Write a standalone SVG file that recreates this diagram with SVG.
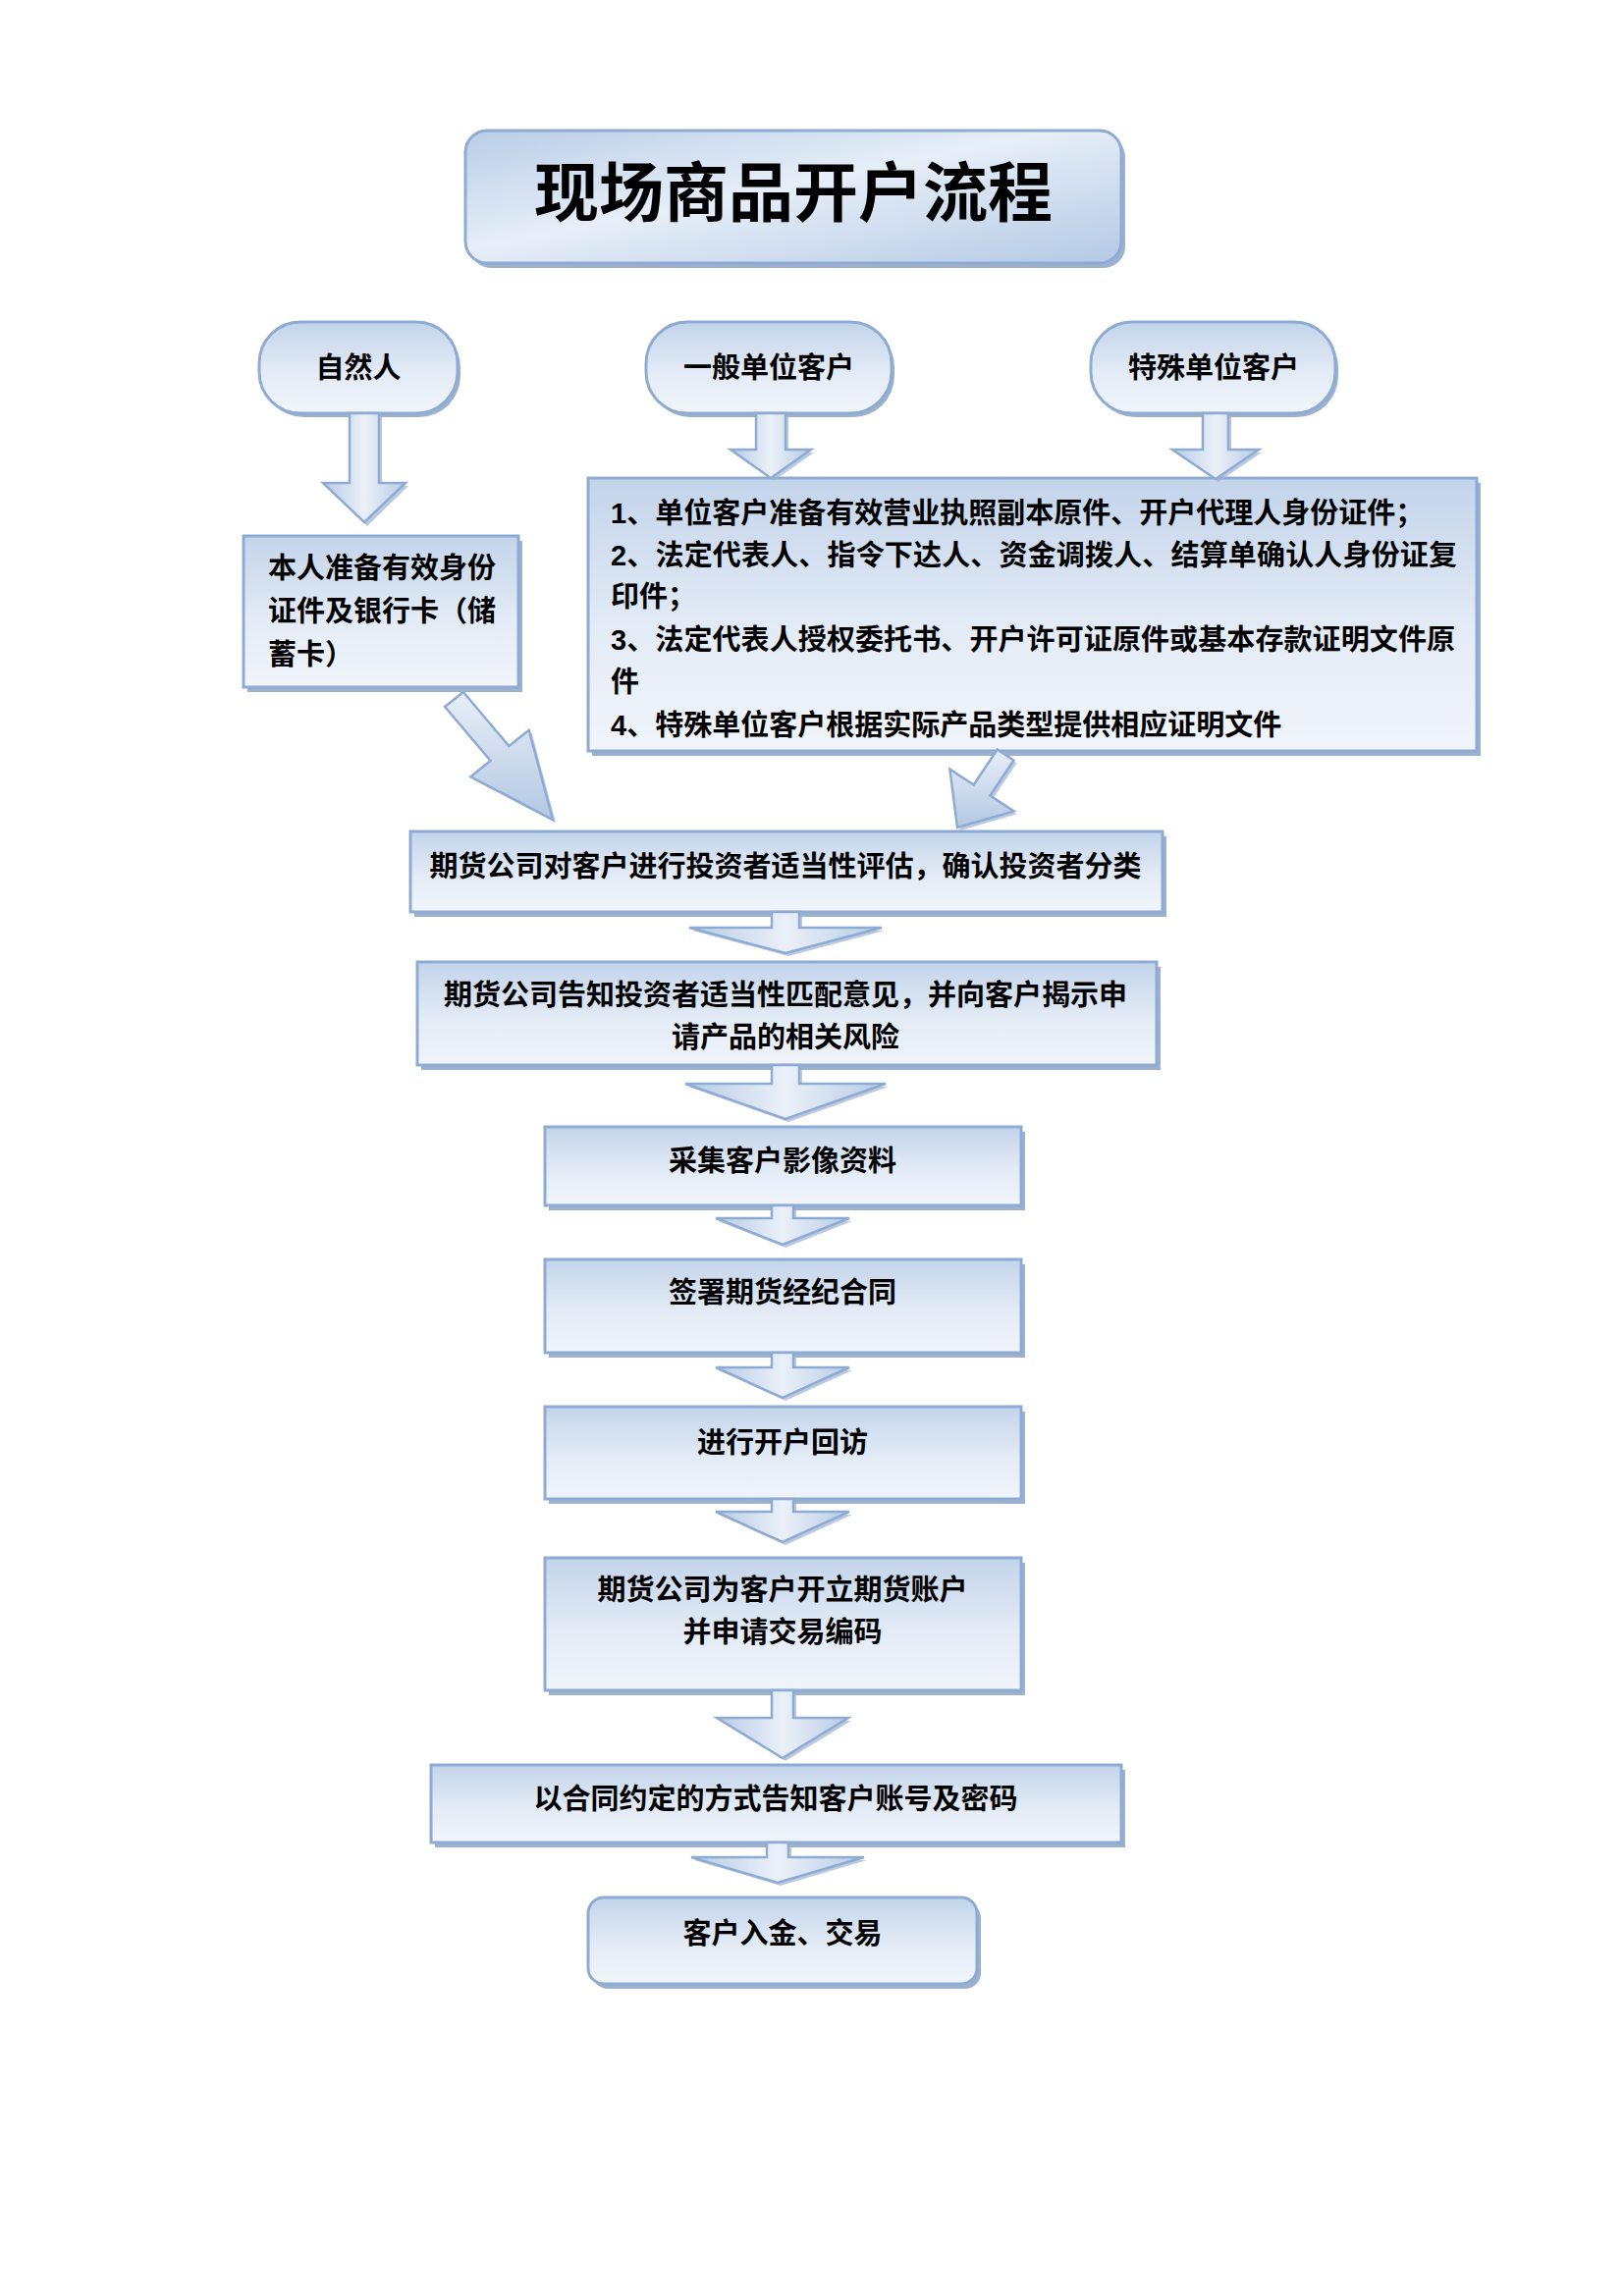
<svg xmlns="http://www.w3.org/2000/svg" width="1654" height="2339" viewBox="0 0 1654 2339">
<defs>
<linearGradient id="gBox" x1="0" y1="0" x2="0" y2="1">
<stop offset="0" stop-color="#c3d4ea"/>
<stop offset="0.55" stop-color="#e3ebf6"/>
<stop offset="1" stop-color="#f1f5fb"/>
</linearGradient>
<linearGradient id="gTitle" x1="0" y1="0" x2="1" y2="1">
<stop offset="0" stop-color="#b9cde6"/>
<stop offset="0.45" stop-color="#e6eef8"/>
<stop offset="1" stop-color="#b4c9e4"/>
</linearGradient>
<linearGradient id="gArrow" x1="0" y1="0" x2="1" y2="0">
<stop offset="0" stop-color="#b7cbe5"/>
<stop offset="0.5" stop-color="#eaf0f8"/>
<stop offset="1" stop-color="#b7cbe5"/>
</linearGradient>
<linearGradient id="gArrowV" x1="0" y1="0" x2="0" y2="1">
<stop offset="0" stop-color="#e8eef7"/>
<stop offset="1" stop-color="#b3c8e3"/>
</linearGradient>
</defs>
<style>
.box{fill:url(#gBox);stroke:#8eabd4;stroke-width:3}
.ttl{fill:url(#gTitle);stroke:#8eabd4;stroke-width:3}
.sh{fill:#8ca3c4;opacity:0.85}
.arr{fill:url(#gArrow);stroke:#8eabd4;stroke-width:2.5;stroke-linejoin:miter}
.arrd{fill:url(#gArrowV);stroke:#8eabd4;stroke-width:2.5}
.ash{fill:#9fb4d0;opacity:0.7}
text{font-family:"Liberation Sans","Noto Sans CJK SC",sans-serif;font-weight:bold;fill:#000;dominant-baseline:central}
.c{text-anchor:middle}
.t{font-size:29px}
.title{font-size:66px;text-anchor:middle}
</style>
<rect width="1654" height="2339" fill="#ffffff"/>

<g id="title">
<rect class="sh" x="478" y="138" width="668" height="135" rx="22"/>
<rect class="ttl" x="474" y="133" width="668" height="135" rx="22"/>
<text class="title" x="808" y="197">现场商品开户流程</text>
</g>

<g id="n-ziranren">
<rect class="sh" x="267" y="332" width="202" height="93" rx="42"/>
<rect class="box" x="264" y="328" width="202" height="93" rx="42"/>
<text class="t c" x="365" y="375">自然人</text>
</g>

<g id="n-yiban">
<rect class="sh" x="661" y="332" width="250" height="93" rx="42"/>
<rect class="box" x="658" y="328" width="250" height="93" rx="42"/>
<text class="t c" x="783" y="375">一般单位客户</text>
</g>

<g id="n-teshu">
<rect class="sh" x="1114" y="332" width="249" height="93" rx="42"/>
<rect class="box" x="1111" y="328" width="249" height="93" rx="42"/>
<text class="t c" x="1236" y="375">特殊单位客户</text>
</g>

<g id="n-benren">
<rect class="sh" x="252" y="551" width="280" height="154"/>
<rect class="box" x="248" y="546" width="280" height="154"/>
<text class="t" x="273" y="579">本人准备有效身份</text>
<text class="t" x="273" y="623">证件及银行卡（储</text>
<text class="t" x="273" y="667">蓄卡）</text>
</g>

<g id="n-danwei">
<rect class="sh" x="603" y="492" width="905" height="278"/>
<rect class="box" x="599" y="487" width="905" height="278"/>
<text class="t" x="622" y="523">1、单位客户准备有效营业执照副本原件、开户代理人身份证件；</text>
<text class="t" x="622" y="566" textLength="862" lengthAdjust="spacing">2、法定代表人、指令下达人、资金调拨人、结算单确认人身份证复</text>
<text class="t" x="622" y="608">印件；</text>
<text class="t" x="622" y="652" textLength="860" lengthAdjust="spacing">3、法定代表人授权委托书、开户许可证原件或基本存款证明文件原</text>
<text class="t" x="622" y="695">件</text>
<text class="t" x="622" y="739">4、特殊单位客户根据实际产品类型提供相应证明文件</text>
</g>

<g id="n-pinggu">
<rect class="sh" x="422" y="852" width="766" height="82"/>
<rect class="box" x="418" y="847" width="766" height="82"/>
<text class="t c" x="800" y="883">期货公司对客户进行投资者适当性评估，确认投资者分类</text>
</g>

<g id="n-gaozhi">
<rect class="sh" x="429" y="985" width="753" height="105"/>
<rect class="box" x="425" y="980" width="753" height="105"/>
<text class="t c" x="800" y="1014">期货公司告知投资者适当性匹配意见，并向客户揭示申</text>
<text class="t c" x="800" y="1057">请产品的相关风险</text>
</g>

<g id="n-caiji">
<rect class="sh" x="559" y="1153" width="485" height="80"/>
<rect class="box" x="555" y="1148" width="485" height="80"/>
<text class="t c" x="797" y="1183">采集客户影像资料</text>
</g>

<g id="n-qianshu">
<rect class="sh" x="559" y="1288" width="485" height="95"/>
<rect class="box" x="555" y="1283" width="485" height="95"/>
<text class="t c" x="797" y="1317">签署期货经纪合同</text>
</g>

<g id="n-huifang">
<rect class="sh" x="559" y="1438" width="485" height="94"/>
<rect class="box" x="555" y="1433" width="485" height="94"/>
<text class="t c" x="797" y="1470">进行开户回访</text>
</g>

<g id="n-kaili">
<rect class="sh" x="559" y="1592" width="485" height="135"/>
<rect class="box" x="555" y="1587" width="485" height="135"/>
<text class="t c" x="797" y="1620">期货公司为客户开立期货账户</text>
<text class="t c" x="797" y="1663">并申请交易编码</text>
</g>

<g id="n-gaozhizh">
<rect class="sh" x="443" y="1803" width="703" height="79"/>
<rect class="box" x="439" y="1798" width="703" height="79"/>
<text class="t c" x="790" y="1833">以合同约定的方式告知客户账号及密码</text>
</g>

<g id="n-rujin">
<rect class="sh" x="603" y="1938" width="396" height="88" rx="16"/>
<rect class="box" x="599" y="1933" width="396" height="88" rx="16"/>
<text class="t c" x="797" y="1970">客户入金、交易</text>
</g>

<g id="connectors">
<polygon class="ash" points="359,424 389,424 389,495 416,495 374,536 332,495 359,495"/>
<polygon class="arr" points="356,421 386,421 386,492 413,492 371,532 329,492 356,492"/>
<polygon class="ash" points="773,424 803,424 803,461 829,461 788,490 747,461 773,461"/>
<polygon class="arr" points="770,421 800,421 800,458 826,458 785,487 744,458 770,458"/>
<polygon class="ash" points="1228,424 1254,424 1254,461 1285,461 1241,491 1197,461 1228,461"/>
<polygon class="arr" points="1225,421 1251,421 1251,458 1282,458 1238,488 1194,458 1225,458"/>

<polygon class="ash" points="474.9,708 521.4,763 541.7,746.8 566,838 482.3,794.3 502.6,778 456.1,723"/>
<polygon class="arrd" points="471.9,705 518.4,760 538.7,743.8 563,835 479.3,791.3 499.6,775 453.1,720"/>
<polygon class="ash" points="1018.7,766.5 1035.4,777.5 1011.4,813.5 1035.6,829.4 978,846 970.4,786.6 994.7,802.5"/>
<polygon class="arrd" points="1015.7,763.5 1032.4,774.5 1008.4,810.5 1032.6,826.4 975,843 967.4,783.6 991.7,799.5"/>

<polygon class="ash" points="789,932 817,932 817,948 901,948 803,974 705,948 789,948"/>
<polygon class="arr" points="786,929 814,929 814,945 898,945 800,971 702,945 786,945"/>
<polygon class="ash" points="789,1088 817,1088 817,1107 905,1107 803,1143 701,1107 789,1107"/>
<polygon class="arr" points="786,1085 814,1085 814,1104 902,1104 800,1140 698,1104 786,1104"/>
<polygon class="ash" points="789,1231 811,1231 811,1244 868,1244 800,1271 732,1244 789,1244"/>
<polygon class="arr" points="786,1228 808,1228 808,1241 865,1241 797,1268 729,1241 786,1241"/>
<polygon class="ash" points="789,1381 811,1381 811,1396 868,1396 800,1427 732,1396 789,1396"/>
<polygon class="arr" points="786,1378 808,1378 808,1393 865,1393 797,1424 729,1393 786,1393"/>
<polygon class="ash" points="789,1530 811,1530 811,1543 868,1543 800,1574 732,1543 789,1543"/>
<polygon class="arr" points="786,1527 808,1527 808,1540 865,1540 797,1571 729,1540 786,1540"/>
<polygon class="ash" points="789,1725 811,1725 811,1753 867,1753 800,1794 733,1753 789,1753"/>
<polygon class="arr" points="786,1722 808,1722 808,1750 864,1750 797,1791 730,1750 786,1750"/>
<polygon class="ash" points="784,1880 806,1880 806,1895 883,1895 795,1921 707,1895 784,1895"/>
<polygon class="arr" points="781,1877 803,1877 803,1892 880,1892 792,1918 704,1892 781,1892"/>
</g>
</svg>
